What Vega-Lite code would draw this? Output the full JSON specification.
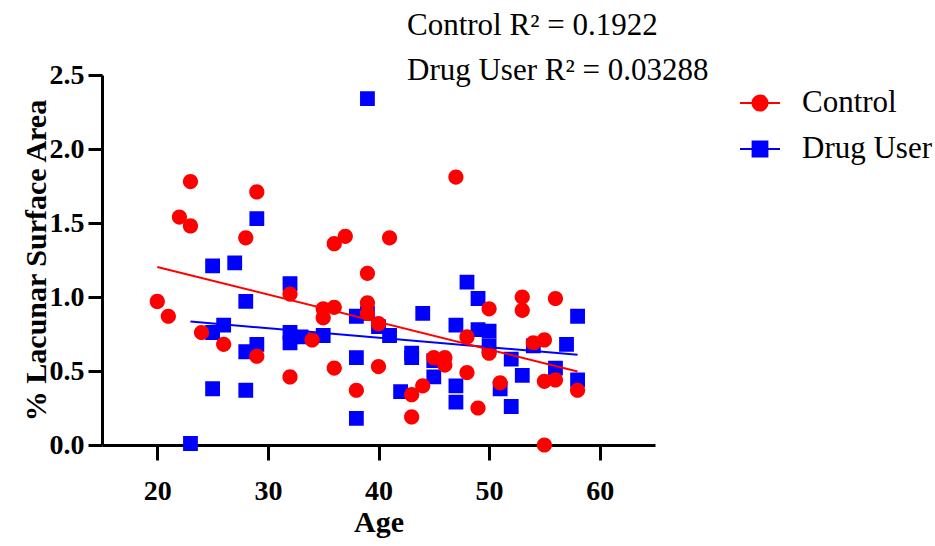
{
  "$schema": "https://vega.github.io/schema/vega-lite/v6.json",
  "autosize": "none",
  "padding": {"left": 102, "top": 75, "right": 280, "bottom": 101},
  "width": 553,
  "height": 370,
  "background": "white",
  "title": {
    "text": ["Control R² = 0.1922", "Drug User R² = 0.03288"],
    "anchor": "start",
    "frame": "group",
    "font": "Liberation Serif",
    "fontSize": 31,
    "fontWeight": "normal",
    "color": "black",
    "lineHeight": 45,
    "dx": 305,
    "dy": 26,
    "offset": 0
  },
  "config": {
    "view": {"stroke": null},
    "axis": {
      "domainColor": "black",
      "domainWidth": 3,
      "tickColor": "black",
      "tickWidth": 3,
      "grid": false,
      "labelFont": "Liberation Serif",
      "labelFontWeight": "bold",
      "labelColor": "black",
      "labelFontSize": 28,
      "titleFont": "Liberation Serif",
      "titleFontWeight": "bold",
      "titleColor": "black",
      "titleFontSize": 30
    },
    "legend": {
      "labelFont": "Liberation Serif",
      "labelFontSize": 31,
      "labelColor": "black",
      "padding": 0
    }
  },
  "data": {
    "values": [
      {"age": 23, "value": 0.01, "group": "Drug User"},
      {"age": 25, "value": 1.21, "group": "Drug User"},
      {"age": 25, "value": 0.76, "group": "Drug User"},
      {"age": 25, "value": 0.38, "group": "Drug User"},
      {"age": 26, "value": 0.81, "group": "Drug User"},
      {"age": 27, "value": 1.23, "group": "Drug User"},
      {"age": 28, "value": 0.97, "group": "Drug User"},
      {"age": 28, "value": 0.63, "group": "Drug User"},
      {"age": 28, "value": 0.37, "group": "Drug User"},
      {"age": 29, "value": 1.53, "group": "Drug User"},
      {"age": 29, "value": 0.68, "group": "Drug User"},
      {"age": 32, "value": 1.09, "group": "Drug User"},
      {"age": 32, "value": 0.76, "group": "Drug User"},
      {"age": 32, "value": 0.69, "group": "Drug User"},
      {"age": 33, "value": 0.73, "group": "Drug User"},
      {"age": 35, "value": 0.74, "group": "Drug User"},
      {"age": 38, "value": 0.87, "group": "Drug User"},
      {"age": 38, "value": 0.59, "group": "Drug User"},
      {"age": 38, "value": 0.18, "group": "Drug User"},
      {"age": 39, "value": 2.34, "group": "Drug User"},
      {"age": 39, "value": 0.89, "group": "Drug User"},
      {"age": 40, "value": 0.8, "group": "Drug User"},
      {"age": 41, "value": 0.74, "group": "Drug User"},
      {"age": 42, "value": 0.36, "group": "Drug User"},
      {"age": 43, "value": 0.62, "group": "Drug User"},
      {"age": 43, "value": 0.59, "group": "Drug User"},
      {"age": 44, "value": 0.89, "group": "Drug User"},
      {"age": 45, "value": 0.57, "group": "Drug User"},
      {"age": 45, "value": 0.46, "group": "Drug User"},
      {"age": 47, "value": 0.81, "group": "Drug User"},
      {"age": 47, "value": 0.4, "group": "Drug User"},
      {"age": 47, "value": 0.29, "group": "Drug User"},
      {"age": 48, "value": 1.1, "group": "Drug User"},
      {"age": 49, "value": 0.99, "group": "Drug User"},
      {"age": 49, "value": 0.78, "group": "Drug User"},
      {"age": 50, "value": 0.77, "group": "Drug User"},
      {"age": 50, "value": 0.67, "group": "Drug User"},
      {"age": 51, "value": 0.38, "group": "Drug User"},
      {"age": 52, "value": 0.58, "group": "Drug User"},
      {"age": 52, "value": 0.26, "group": "Drug User"},
      {"age": 53, "value": 0.47, "group": "Drug User"},
      {"age": 54, "value": 0.67, "group": "Drug User"},
      {"age": 56, "value": 0.52, "group": "Drug User"},
      {"age": 57, "value": 0.68, "group": "Drug User"},
      {"age": 58, "value": 0.87, "group": "Drug User"},
      {"age": 58, "value": 0.44, "group": "Drug User"},
      {"age": 20, "value": 0.97, "group": "Control"},
      {"age": 21, "value": 0.87, "group": "Control"},
      {"age": 22, "value": 1.54, "group": "Control"},
      {"age": 23, "value": 1.78, "group": "Control"},
      {"age": 23, "value": 1.48, "group": "Control"},
      {"age": 24, "value": 0.76, "group": "Control"},
      {"age": 26, "value": 0.68, "group": "Control"},
      {"age": 28, "value": 1.4, "group": "Control"},
      {"age": 29, "value": 1.71, "group": "Control"},
      {"age": 29, "value": 0.6, "group": "Control"},
      {"age": 32, "value": 1.02, "group": "Control"},
      {"age": 32, "value": 0.46, "group": "Control"},
      {"age": 34, "value": 0.71, "group": "Control"},
      {"age": 35, "value": 0.92, "group": "Control"},
      {"age": 35, "value": 0.86, "group": "Control"},
      {"age": 36, "value": 0.93, "group": "Control"},
      {"age": 36, "value": 1.36, "group": "Control"},
      {"age": 36, "value": 0.52, "group": "Control"},
      {"age": 37, "value": 1.41, "group": "Control"},
      {"age": 38, "value": 0.37, "group": "Control"},
      {"age": 39, "value": 1.16, "group": "Control"},
      {"age": 39, "value": 0.96, "group": "Control"},
      {"age": 39, "value": 0.89, "group": "Control"},
      {"age": 40, "value": 0.82, "group": "Control"},
      {"age": 40, "value": 0.53, "group": "Control"},
      {"age": 41, "value": 1.4, "group": "Control"},
      {"age": 43, "value": 0.34, "group": "Control"},
      {"age": 43, "value": 0.19, "group": "Control"},
      {"age": 44, "value": 0.4, "group": "Control"},
      {"age": 45, "value": 0.59, "group": "Control"},
      {"age": 46, "value": 0.59, "group": "Control"},
      {"age": 46, "value": 0.54, "group": "Control"},
      {"age": 47, "value": 1.81, "group": "Control"},
      {"age": 48, "value": 0.73, "group": "Control"},
      {"age": 48, "value": 0.49, "group": "Control"},
      {"age": 49, "value": 0.25, "group": "Control"},
      {"age": 50, "value": 0.92, "group": "Control"},
      {"age": 50, "value": 0.62, "group": "Control"},
      {"age": 51, "value": 0.42, "group": "Control"},
      {"age": 53, "value": 1.0, "group": "Control"},
      {"age": 53, "value": 0.91, "group": "Control"},
      {"age": 54, "value": 0.69, "group": "Control"},
      {"age": 55, "value": 0.71, "group": "Control"},
      {"age": 55, "value": 0.43, "group": "Control"},
      {"age": 55, "value": 0.0, "group": "Control"},
      {"age": 56, "value": 0.44, "group": "Control"},
      {"age": 56, "value": 0.99, "group": "Control"},
      {"age": 58, "value": 0.37, "group": "Control"}
    ]
  },
  "encoding": {
    "x": {
      "field": "age",
      "type": "quantitative",
      "scale": {"domain": [15, 65], "nice": false, "zero": false},
      "axis": {
        "title": "Age",
        "values": [20, 30, 40, 50, 60],
        "tickSize": 15,
        "labelPadding": 17,
        "titlePadding": 2
      }
    },
    "y": {
      "field": "value",
      "type": "quantitative",
      "scale": {"domain": [0, 2.5], "nice": false},
      "axis": {
        "title": "% Lacunar Surface Area",
        "values": [0, 0.5, 1, 1.5, 2, 2.5],
        "format": ".1f",
        "tickSize": 14,
        "labelPadding": 4,
        "titlePadding": -2
      }
    }
  },
  "layer": [
    {
      "mark": {"type": "point", "filled": true, "opacity": 1, "size": 1600, "strokeWidth": 0},
      "encoding": {
        "fill": {
          "field": "group",
          "type": "nominal",
          "scale": {"domain": ["Control", "Drug User"], "range": ["#ff0000", "#0000ff"]},
          "legend": {
            "title": null,
            "orient": "none",
            "legendX": 637,
            "legendY": 7,
            "symbolSize": 1600,
            "symbolStrokeWidth": 2,
            "labelOffset": 21,
            "rowPadding": 10
          }
        },
        "stroke": {
          "field": "group",
          "type": "nominal",
          "scale": {"domain": ["Control", "Drug User"], "range": ["#ff0000", "#0000ff"]},
          "legend": {
            "title": null,
            "orient": "none",
            "legendX": 637,
            "legendY": 7,
            "symbolSize": 1600,
            "symbolStrokeWidth": 2,
            "labelOffset": 21,
            "rowPadding": 10
          }
        },
        "shape": {
          "field": "group",
          "type": "nominal",
          "scale": {
            "domain": ["Control", "Drug User"],
            "range": [
              "M-1,0L1,0M0.38,0A0.38,0.38,0,1,1,-0.38,0A0.38,0.38,0,1,1,0.38,0Z",
              "M-1,0L1,0M-0.37,-0.37L0.37,-0.37L0.37,0.37L-0.37,0.37Z"
            ]
          },
          "legend": {
            "title": null,
            "orient": "none",
            "legendX": 637,
            "legendY": 7,
            "symbolSize": 1600,
            "symbolStrokeWidth": 2,
            "labelOffset": 21,
            "rowPadding": 10
          }
        }
      }
    },
    {
      "transform": [
        {"regression": "value", "on": "age", "groupby": ["group"]}
      ],
      "mark": {"type": "line", "strokeWidth": 2},
      "encoding": {
        "color": {
          "field": "group",
          "type": "nominal",
          "scale": {"domain": ["Control", "Drug User"], "range": ["#ff0000", "#0000ff"]},
          "legend": null
        }
      }
    }
  ]
}
